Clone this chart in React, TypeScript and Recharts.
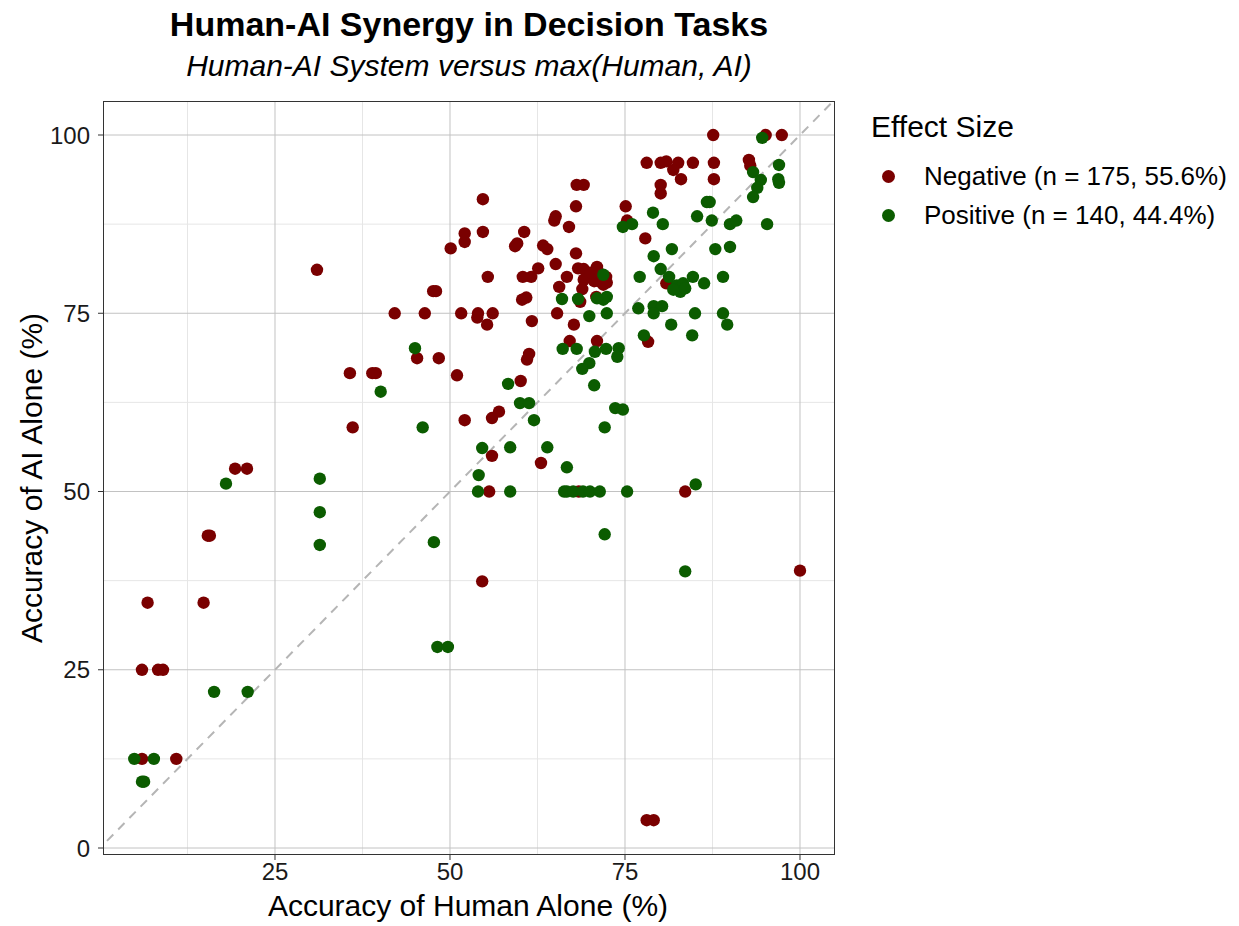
import React from "react";
import {
  ScatterChart,
  Scatter,
  XAxis,
  YAxis,
  ReferenceLine,
} from "recharts";

// [human accuracy %, AI accuracy %]
const negativePoints: [number, number][] = [
  [87.6, 100], [95.1, 100], [97.4, 100], [78.1, 96.1], [80.1, 96.1], [80.9, 96.3],
  [82.6, 96.1], [84.7, 96.1], [87.7, 96.1], [92.7, 96.5], [92.9, 95.7], [81.9, 95.1],
  [80.1, 93.0], [80.1, 91.8], [83.0, 93.8], [87.7, 93.8], [68.1, 93.0], [69.1, 93.0],
  [54.7, 91.0], [75.1, 90.0], [68.0, 90.0], [75.3, 88.0], [67.0, 87.1], [60.6, 86.4],
  [54.7, 86.4], [52.1, 86.2], [52.1, 85.0], [65.1, 88.6], [64.9, 88.0], [50.1, 84.1],
  [59.3, 84.4], [59.6, 84.8], [63.3, 84.5], [63.9, 84.0], [68.0, 83.4], [65.1, 81.9],
  [62.6, 81.3], [68.3, 81.3], [69.1, 81.2], [71.0, 81.5], [55.4, 80.1], [60.4, 80.1],
  [61.6, 80.1], [66.7, 80.1], [70.3, 80.1], [71.5, 79.4], [72.3, 80.1], [72.4, 79.3],
  [70.6, 79.5], [71.9, 79.0], [69.1, 79.7], [70.1, 80.7], [71.5, 80.5], [65.6, 78.7],
  [68.9, 78.4], [70.9, 77.3], [60.3, 76.9], [60.9, 77.2], [68.6, 76.6], [47.6, 78.1],
  [48.0, 78.1], [31.0, 81.1], [42.1, 75.0], [46.4, 75.0], [51.6, 75.0], [54.0, 75.0],
  [53.9, 74.4], [56.1, 75.0], [55.3, 73.4], [61.7, 73.9], [65.3, 75.0], [67.7, 73.4],
  [67.1, 71.1], [71.0, 71.1], [78.3, 71.0], [61.3, 69.3], [61.0, 68.5], [45.3, 68.7],
  [48.4, 68.7], [51.0, 66.3], [35.7, 66.6], [38.9, 66.6], [39.4, 66.6], [36.1, 59.0],
  [52.1, 60.0], [60.1, 65.5], [57.0, 61.2], [56.0, 60.3], [56.0, 55.0], [63.0, 54.0],
  [19.3, 53.2], [21.0, 53.2], [15.4, 43.8], [15.7, 43.8], [6.8, 34.4], [14.8, 34.4],
  [6.0, 25.0], [8.3, 25.0], [9.0, 25.0], [6.0, 12.5], [10.9, 12.5], [54.6, 37.4],
  [78.1, 3.9], [79.1, 3.9], [100, 38.9], [55.6, 50], [68.4, 50], [83.6, 50],
  [77.9, 85.5], [80.9, 79.2],
];

const positivePoints: [number, number][] = [
  [94.6, 99.6], [97.0, 95.8], [93.3, 94.8], [94.4, 93.7], [96.9, 93.8], [97.0, 93.3],
  [93.9, 92.6], [93.3, 91.3], [86.7, 90.6], [87.1, 90.6], [79.0, 89.1], [76.0, 87.5],
  [74.7, 87.1], [80.4, 87.5], [85.3, 88.6], [87.4, 88.0], [90.0, 87.5], [90.9, 88.0],
  [95.3, 87.5], [81.7, 84.0], [79.1, 83.0], [87.9, 84.0], [90.0, 84.3], [80.1, 81.2],
  [77.1, 80.1], [84.7, 80.1], [89.0, 80.1], [86.3, 79.2], [81.3, 80.1], [82.4, 78.9],
  [83.3, 79.2], [82.9, 78.0], [81.9, 78.3], [83.6, 78.5], [76.9, 75.7], [79.1, 76.0],
  [80.3, 76.0], [79.1, 75.0], [81.6, 73.4], [85.0, 75.0], [89.0, 75.0], [89.6, 73.4],
  [84.6, 71.9], [77.7, 71.9], [66.0, 77.0], [68.3, 77.0], [72.4, 77.3], [71.9, 76.9],
  [71.0, 77.1], [71.9, 80.4], [69.9, 74.6], [72.4, 75.0], [66.1, 70.0], [68.1, 70.0],
  [70.7, 69.6], [72.3, 70.0], [74.1, 70.1], [73.9, 68.9], [69.9, 68.0], [68.9, 67.2],
  [70.6, 64.9], [58.3, 65.1], [60.0, 62.4], [61.3, 62.4], [73.6, 61.7], [74.7, 61.5],
  [72.1, 59.0], [62.0, 60.0], [54.6, 56.1], [58.6, 56.2], [63.9, 56.2], [66.7, 53.4],
  [54.1, 52.3], [54.0, 50], [58.6, 50], [66.3, 50], [66.7, 50], [67.6, 50],
  [69.0, 50], [70.0, 50], [71.4, 50], [75.3, 50], [85.1, 51.0], [72.1, 44.0],
  [83.6, 38.8], [45.0, 70.1], [40.1, 64.0], [46.1, 59.0], [18.0, 51.1], [31.4, 51.8],
  [31.4, 47.1], [31.4, 42.5], [47.7, 42.9], [48.2, 28.2], [49.7, 28.2], [16.3, 21.9],
  [21.1, 21.9], [4.9, 12.5], [7.7, 12.5], [6.0, 9.3], [6.3, 9.3],
];

const legendLabels = ["Negative (n = 175, 55.6%)", "Positive (n = 140, 44.4%)"];
const majorTicks = [0, 25, 50, 75, 100];
const minorTicks = [12.5, 37.5, 62.5, 87.5];

const RED = "#7a0000";
const GREEN = "#0b5c00";
const FONT = "'Liberation Sans', Arial, Helvetica, sans-serif";

const W = 1239;
const H = 926;
const PLOT = { left: 103, top: 101, right: 835, bottom: 855 };
const X_DOMAIN: [number, number] = [0.43, 105];
const Y_DOMAIN: [number, number] = [-0.98, 104.77];

const dot = (color: string) => (props: any) =>
  <circle cx={props.cx} cy={props.cy} r={6.2} fill={color} />;

const toXY = (pts: [number, number][]) => pts.map(([x, y]) => ({ x, y }));

export default function App() {
  const yAxisWidth = 60;
  const xAxisHeight = 40;
  return (
    <div
      style={{
        position: "absolute",
        left: 0,
        top: 0,
        width: W,
        height: H,
        background: "#fff",
        fontFamily: FONT,
        color: "#000",
      }}
    >
      <ScatterChart
        width={W}
        height={H}
        margin={{
          left: PLOT.left - yAxisWidth,
          top: PLOT.top,
          right: W - PLOT.right,
          bottom: H - PLOT.bottom - xAxisHeight,
        }}
      >
        <XAxis
          type="number"
          dataKey="x"
          domain={X_DOMAIN}
          ticks={[25, 50, 75, 100]}
          allowDataOverflow
          height={xAxisHeight}
          axisLine={false}
          tickSize={5}
          tickMargin={3}
          tickLine={{ stroke: "#333" }}
          tick={{ fontSize: 24, fill: "#1a1a1a", fontFamily: FONT }}
        />
        <YAxis
          type="number"
          dataKey="y"
          domain={Y_DOMAIN}
          ticks={majorTicks}
          allowDataOverflow
          width={yAxisWidth}
          axisLine={false}
          tickSize={5}
          tickMargin={8}
          tickLine={{ stroke: "#333" }}
          tick={{ fontSize: 24, fill: "#1a1a1a", fontFamily: FONT }}
        />
        {minorTicks.map((v) => (
          <ReferenceLine key={`mx${v}`} x={v} stroke="#e6e6e6" strokeWidth={1} />
        ))}
        {minorTicks.map((v) => (
          <ReferenceLine key={`my${v}`} y={v} stroke="#e6e6e6" strokeWidth={1} />
        ))}
        {[25, 50, 75, 100].map((v) => (
          <ReferenceLine key={`Mx${v}`} x={v} stroke="#c2c2c2" strokeWidth={1} />
        ))}
        {majorTicks.map((v) => (
          <ReferenceLine key={`My${v}`} y={v} stroke="#c2c2c2" strokeWidth={1} />
        ))}
        <ReferenceLine
          segment={[
            { x: 1, y: 1 },
            { x: 104.77, y: 104.77 },
          ]}
          stroke="#b5b5b5"
          strokeWidth={2}
          strokeDasharray="9 7"
          ifOverflow="hidden"
        />
        <Scatter
          data={toXY(negativePoints)}
          shape={dot(RED)}
          isAnimationActive={false}
        />
        <Scatter
          data={toXY(positivePoints)}
          shape={dot(GREEN)}
          isAnimationActive={false}
        />
      </ScatterChart>

      {/* panel border */}
      <div
        style={{
          position: "absolute",
          left: PLOT.left,
          top: PLOT.top,
          width: PLOT.right - PLOT.left,
          height: PLOT.bottom - PLOT.top,
          border: "1px solid #333",
          boxSizing: "border-box",
          pointerEvents: "none",
        }}
      />

      {/* titles */}
      <div
        style={{
          position: "absolute",
          left: 469,
          top: 24,
          transform: "translate(-50%, -50%)",
          fontSize: 34,
          fontWeight: "bold",
          lineHeight: 1,
          whiteSpace: "nowrap",
        }}
      >
        Human-AI Synergy in Decision Tasks
      </div>
      <div
        style={{
          position: "absolute",
          left: 469,
          top: 66,
          transform: "translate(-50%, -50%)",
          fontSize: 30,
          fontStyle: "italic",
          lineHeight: 1,
          whiteSpace: "nowrap",
        }}
      >
        Human-AI System versus max(Human, AI)
      </div>

      {/* axis titles */}
      <div
        style={{
          position: "absolute",
          left: 468,
          top: 906,
          transform: "translate(-50%, -50%)",
          fontSize: 30,
          lineHeight: 1,
          whiteSpace: "nowrap",
        }}
      >
        Accuracy of Human Alone (%)
      </div>
      <div
        style={{
          position: "absolute",
          left: 32,
          top: 478,
          transform: "translate(-50%, -50%) rotate(-90deg)",
          fontSize: 30,
          lineHeight: 1,
          whiteSpace: "nowrap",
        }}
      >
        Accuracy of AI Alone (%)
      </div>

      {/* legend */}
      <div
        style={{
          position: "absolute",
          left: 871,
          top: 127,
          transform: "translateY(-50%)",
          fontSize: 30,
          lineHeight: 1,
          whiteSpace: "nowrap",
        }}
      >
        Effect Size
      </div>
      {legendLabels.map((label, i) => (
        <div
          key={label}
          style={{
            position: "absolute",
            left: 882,
            top: 176 + i * 39,
            transform: "translateY(-50%)",
            display: "flex",
            alignItems: "center",
            fontSize: 26,
            lineHeight: 1,
            whiteSpace: "nowrap",
          }}
        >
          <span
            style={{
              display: "inline-block",
              width: 13,
              height: 13,
              borderRadius: "50%",
              background: i === 0 ? RED : GREEN,
              marginRight: 29,
            }}
          />
          {label}
        </div>
      ))}
    </div>
  );
}
